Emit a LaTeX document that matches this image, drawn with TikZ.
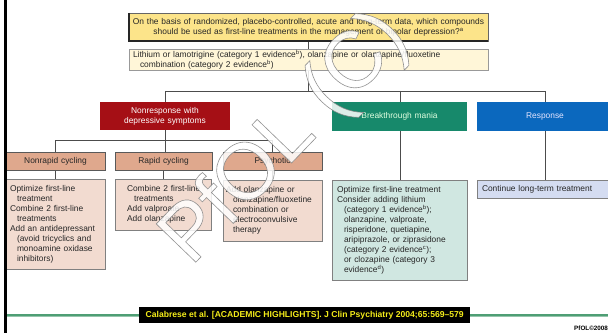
\documentclass[tikz,border=0pt]{standalone}
\usepackage{fontspec}
\setmainfont{Liberation Sans}
\definecolor{qfill}{HTML}{FCE48A}
\definecolor{afill}{HTML}{FFF6D8}
\definecolor{nrfill}{HTML}{A50F15}
\definecolor{bmfill}{HTML}{17896B}
\definecolor{rsfill}{HTML}{0B68BE}
\definecolor{hfill}{HTML}{DFA88D}
\definecolor{dfill}{HTML}{F2DBD0}
\definecolor{mfill}{HTML}{D0E7E1}
\definecolor{cfill}{HTML}{D4DCF1}
\definecolor{lgreen}{HTML}{4E9E74}
\definecolor{cite}{HTML}{F4EC1A}
\definecolor{txt}{HTML}{262626}
\tikzset{
  bx/.style={anchor=north west, inner ysep=0pt, outer sep=0pt, text=txt, font=\fontsize{8.4}{10}\selectfont},
  conn/.style={draw=black!70, line width=0.8pt},
}
\newcommand{\ind}{\hspace*{7pt}}
\newcommand{\outlinetext}[1]{\special{pdf:literal 2 Tr 0.6 w 0.5 0.5 0.5 RG}#1\special{pdf:literal 0 Tr}}
\begin{document}
\begin{tikzpicture}[x=1pt,y=-1pt]
\useasboundingbox (0,0) rectangle (608,334);
\clip (0,0) rectangle (608,334);
\fill[white] (0,0) rectangle (608,334);

% connectors (behind boxes)
\draw[conn] (308,41) -- (308,91);
\draw[conn] (165,102) -- (165,91) -- (545,91) -- (545,180);
\draw[conn] (400,91) -- (400,180);
\draw[conn] (165,130) -- (165,140);
\draw[conn] (55.5,152) -- (55.5,140) -- (272.5,140) -- (272.5,152);
\draw[conn] (165,140) -- (165,152);
\draw[conn] (55.5,170) -- (55.5,179);
\draw[conn] (163.5,170) -- (163.5,179);
\draw[conn] (272.5,170) -- (272.5,180);

% top question
\node[bx, fill=qfill, draw=black!60, line width=0.8pt, minimum width=359pt, minimum height=28pt, text width=355pt, align=center, inner xsep=2pt] (q) at (129,13)
  {On the basis of randomized, placebo-controlled, acute and long-term data, which compounds\\ should be used as first-line treatments in the management of bipolar depression?\textsuperscript{a}};
\draw[black!85, line width=1.2pt] (q.north west) -- (q.south west) -- (q.south east);
\node[bx, fill=afill, draw=black!40, line width=0.8pt, minimum width=359pt, minimum height=21pt, text width=351pt, align=left, inner xsep=4pt] (a) at (129,49)
  {Lithium or lamotrigine (category 1 evidence\textsuperscript{b}), olanzapine or olanzapine/fluoxetine\\ \ind combination (category 2 evidence\textsuperscript{b})};

% level 2
\node[bx, fill=nrfill, minimum width=130pt, minimum height=28pt, text width=126pt, align=center, inner xsep=2pt, text=white] (nr) at (100,102)
  {Nonresponse with\\ depressive symptoms};
\node[bx, fill=bmfill, minimum width=135pt, minimum height=29pt, text width=131pt, align=center, inner xsep=2pt, text=white!88!green] (bm) at (332,102)
  {Breakthrough mania};
\node[bx, fill=rsfill, minimum width=136pt, minimum height=29pt, text width=132pt, align=center, inner xsep=2pt, text=white!90!blue] (rs) at (477,102)
  {Response};

% level 3 headers
\node[bx, fill=hfill, draw=black!65, line width=0.7pt, minimum width=99pt, minimum height=18pt, text width=95pt, align=center, inner xsep=2pt] (h1) at (6,152) {Nonrapid cycling};
\node[bx, fill=hfill, draw=black!65, line width=0.7pt, minimum width=97pt, minimum height=18pt, text width=93pt, align=center, inner xsep=2pt] (h2) at (115,152) {Rapid cycling};
\node[bx, fill=hfill, draw=black!65, line width=0.7pt, minimum width=99pt, minimum height=18pt, text width=95pt, align=center, inner xsep=2pt] (h3) at (223,152) {Psychotic};

% detail boxes
\node[bx, fill=dfill, draw=black!50, line width=0.7pt, minimum width=99pt, minimum height=90pt, text width=91pt, align=left, inner xsep=4pt] (d1) at (6,179)
  {Optimize first-line\\ \ind treatment\\ Combine 2 first-line\\ \ind treatments\\ Add an antidepressant\\ \ind (avoid tricyclics and\\ \ind monoamine oxidase\\ \ind inhibitors)};
\node[bx, fill=dfill, draw=black!50, line width=0.7pt, minimum width=96pt, minimum height=51pt, text width=88pt, align=left, inner xsep=4pt] (d2) at (115,179)
  {\hspace*{8pt}Combine 2 first-line\\ \hspace*{8pt}\ind treatments\\ \hspace*{8pt}Add valproate\\ \hspace*{8pt}Add olanzapine};
\node[bx, fill=dfill, draw=black!50, line width=0.7pt, minimum width=99pt, minimum height=61pt, text width=93pt, align=left, inner xsep=3pt] (d3) at (223,180)
  {Add olanzapine or\\ \ind olanzapine/fluoxetine\\ \ind combination or\\ \ind electroconvulsive\\ \ind therapy};
\node[bx, fill=mfill, draw=black!50, line width=0.7pt, minimum width=135pt, minimum height=100pt, text width=125pt, align=left, inner xsep=5pt] (d4) at (332,180)
  {Optimize first-line treatment\\ Consider adding lithium\\ \ind (category 1 evidence\textsuperscript{b});\\ \ind olanzapine, valproate,\\ \ind risperidone, quetiapine,\\ \ind aripiprazole, or ziprasidone\\ \ind (category 2 evidence\textsuperscript{c});\\ \ind or clozapine (category 3\\ \ind evidence\textsuperscript{d})};
\node[bx, fill=cfill, draw=black!50, line width=0.7pt, minimum width=136pt, minimum height=18pt, text width=126pt, align=left, inner xsep=5pt] (d5) at (477,180)
  {Continue long-term treatment};

% watermark
\node[rotate=46, inner sep=0pt, text=white, text opacity=0.85, font=\fontsize{80}{80}\selectfont] (wm) at (286,139) {\outlinetext{PfOL (C)}};

% footer
\draw[lgreen!60, line width=3pt] (6,315) -- (608,315);
\draw[lgreen, line width=1.6pt] (6,315) -- (608,315);
\draw[black, line width=3pt] (5,0) -- (5,333);
\node[anchor=north west, fill=black, minimum width=331pt, minimum height=16pt, inner sep=0pt, text=cite, font=\bfseries\fontsize{8.6}{10}\selectfont] (cit) at (139,307)
  {Calabrese et al. [ACADEMIC HIGHLIGHTS]. J Clin Psychiatry 2004;65:569–579};
\node[anchor=west, inner sep=0pt, font=\bfseries\fontsize{6.3}{7}\selectfont] (pfol) at (574,328) {PfOL©2008};
\end{tikzpicture}
\end{document}
